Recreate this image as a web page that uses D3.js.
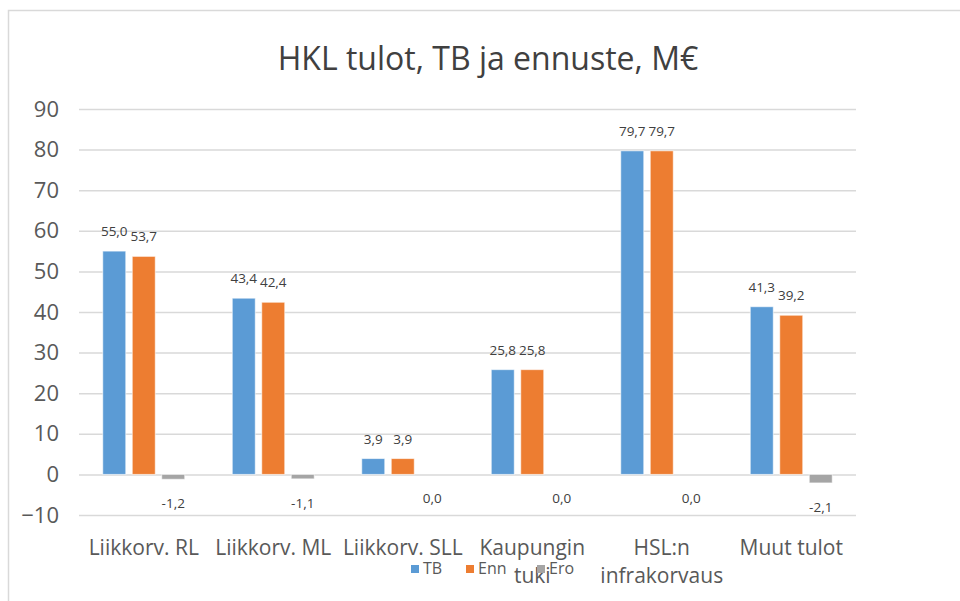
<html>
<head>
    <title>HKL tulot, TB ja ennuste</title>
    <style>
        body { margin: 0; background: #fff; }
        #chart { width: 960px; height: 601px; }
        text { font-family: "Open Sans", "DejaVu Sans", sans-serif; }
    </style>
    <script src="https://cdnjs.cloudflare.com/ajax/libs/d3/7.8.5/d3.min.js"></script>
</head>
<body>
    <div id="chart"></div>
    <script>
      // chart data
      const categories = ['Liikkorv. RL', 'Liikkorv. ML', 'Liikkorv. SLL', 'Kaupungin tuki', 'HSL:n infrakorvaus', 'Muut tulot'];
      const seriesNames = ['TB', 'Enn', 'Ero'];
      const tbValues = [55.0, 43.4, 3.9, 25.8, 79.7, 41.3];
      const ennValues = [53.7, 42.4, 3.9, 25.8, 79.7, 39.2];
      const eroValues = [-1.2, -1.1, 0.0, 0.0, 0.0, -2.1];
      const yTicks = [-10, 0, 10, 20, 30, 40, 50, 60, 70, 80, 90];
      const colors = ['#5b9bd5', '#ed7d31', '#a5a5a5'];

      const W = 960, H = 601;
      const plot = { left: 79, right: 856, top: 109, bottom: 515 };

      const svg = d3.select('#chart')
        .append('svg')
          .attr('width', W)
          .attr('height', H);

      // chart frame
      svg.append('rect')
        .attr('x', 8.5)
        .attr('y', 10.5)
        .attr('width', W)
        .attr('height', H)
        .style('fill', '#fff')
        .style('stroke', '#d9d9d9')
        .style('stroke-width', 1.5);

      svg.append('text')
        .attr('x', 488)
        .attr('y', 70)
        .style('text-anchor', 'middle')
        .style('font-size', '32px')
        .style('fill', '#404040')
        .text('HKL tulot, TB ja ennuste, M€');

      const y = d3.scaleLinear()
        .domain([-10, 90])
        .range([plot.bottom, plot.top]);

      const x0 = d3.scaleBand()
        .domain(categories)
        .range([plot.left, plot.right])
        .paddingInner(0.367)
        .paddingOuter(0.1835);

      const x1 = d3.scaleBand()
        .domain(seriesNames)
        .range([0, x0.bandwidth()])
        .paddingInner(0.22);

      // gridlines + y tick labels via axis
      const yAxis = svg.append('g')
        .attr('transform', `translate(${plot.left},0)`)
        .call(d3.axisLeft(y).tickValues(yTicks).tickSize(-(plot.right - plot.left)).tickPadding(20).tickFormat(d3.format('d')));
      yAxis.select('.domain').remove();
      yAxis.selectAll('.tick line')
        .style('stroke', '#d9d9d9')
        .style('stroke-width', 1.5);
      yAxis.selectAll('.tick text')
        .style('font-size', '22px')
        .style('fill', '#595959');

      const rows = categories.map((c, i) => ({
        cat: c,
        vals: [tbValues[i], ennValues[i], eroValues[i]]
      }));

      const groups = svg.selectAll('.grp')
        .data(rows)
        .join('g')
          .attr('class', 'grp')
          .attr('transform', d => `translate(${x0(d.cat)},0)`);

      const cells = groups.selectAll('g.cell')
        .data(d => d.vals.map((v, k) => ({ s: seriesNames[k], v: v, k: k })))
        .join('g')
          .attr('class', 'cell');

      cells.append('rect')
        .attr('x', d => x1(d.s))
        .attr('y', d => y(Math.max(0, d.v)))
        .attr('width', x1.bandwidth())
        .attr('height', d => Math.abs(y(d.v) - y(0)))
        .style('fill', d => colors[d.k])
        .style('stroke', '#fff')
        .style('stroke-opacity', 0.6)
        .style('stroke-width', 1);

      cells.append('text')
        .attr('x', d => x1(d.s) + x1.bandwidth() / 2)
        .attr('y', d => d.v > 0 ? y(d.v) - 15 : y(d.v) + 29)
        .style('text-anchor', 'middle')
        .style('font-size', '13.5px')
        .style('fill', '#404040')
        .text(d => d3.format('.1f')(d.v).replace('.', ',').replace('−', '-'));

      // category labels, wrapped on two lines where Excel did
      const catLines = {
        'Kaupungin tuki': ['Kaupungin', 'tuki'],
        'HSL:n infrakorvaus': ['HSL:n', 'infrakorvaus']
      };
      const catText = svg.selectAll('.cat')
        .data(categories)
        .join('text')
          .attr('class', 'cat')
          .attr('x', d => x0(d) + x0.bandwidth() / 2)
          .attr('y', 555)
          .style('text-anchor', 'middle')
          .style('font-size', '21px')
          .style('fill', '#595959');
      catText.selectAll('tspan')
        .data(d => catLines[d] || [d])
        .join('tspan')
          .attr('x', function () { return d3.select(this.parentNode).attr('x'); })
          .attr('dy', (d, i) => i === 0 ? 0 : 28)
          .text(d => d);

      // legend
      const legendX = [411, 466, 537];
      const legend = svg.selectAll('.leg')
        .data(seriesNames)
        .join('g')
          .attr('class', 'leg')
          .attr('transform', (d, i) => `translate(${legendX[i]},565)`);
      legend.append('rect')
        .attr('width', 8)
        .attr('height', 8)
        .style('fill', (d, i) => colors[i]);
      legend.append('text')
        .attr('x', 12)
        .attr('y', 9)
        .style('font-size', '16px')
        .style('fill', '#595959')
        .text(d => d);
    </script>
</body>
</html>
